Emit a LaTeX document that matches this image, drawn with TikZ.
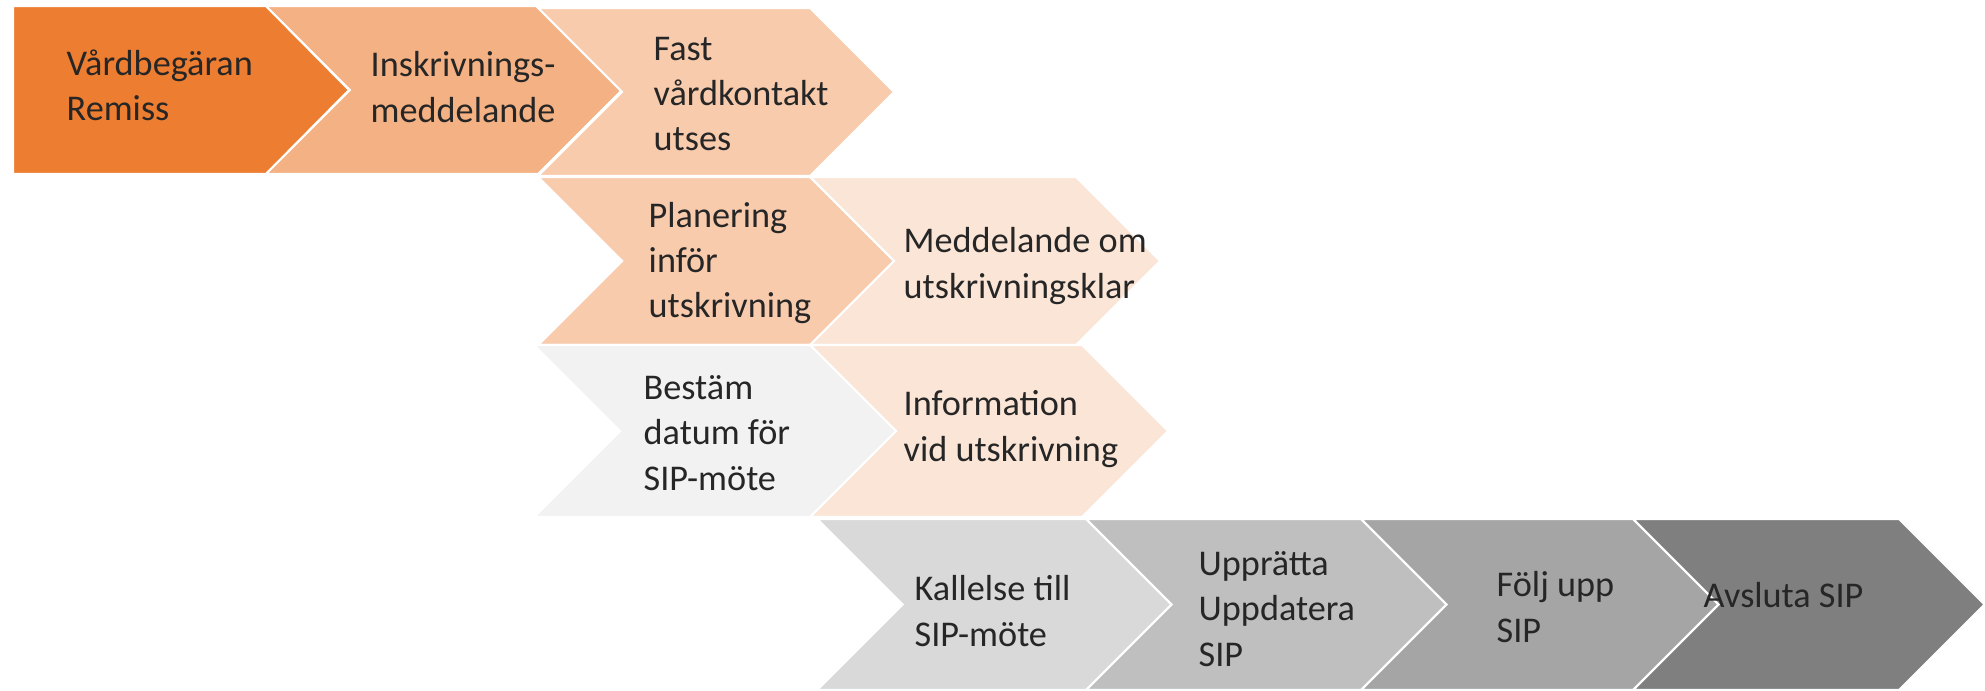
\documentclass[tikz,border=0pt]{standalone}
\usepackage{fontspec}
\setmainfont{Carlito}
\usepackage{xcolor}
\definecolor{Orange}{HTML}{ED7D31}
\definecolor{Peach}{HTML}{F4B183}
\definecolor{Apricot}{HTML}{F8CBAD}
\definecolor{Linen}{HTML}{FBE5D6}
\definecolor{Smoke}{HTML}{F2F2F2}
\definecolor{Silver}{HTML}{D9D9D9}
\definecolor{Ash}{HTML}{BFBFBF}
\definecolor{Stone}{HTML}{A5A5A5}
\definecolor{Slate}{HTML}{7F7F7F}
\colorlet{c0}{Orange}
\colorlet{c1}{Peach}
\colorlet{c2}{Apricot}
\colorlet{c3}{Linen}
\colorlet{c4}{Smoke}
\colorlet{g1}{Silver}
\colorlet{g2}{Ash}
\colorlet{g3}{Stone}
\colorlet{g4}{Slate}
\usepackage{tikz}
\tikzset{
	font = \fontsize{10.3}{12.9}\selectfont,
	chevron/.style={
		draw=white,
		line width=.6pt
	},
	lbl/.style={
		anchor=west,
		align=left,
		inner sep=0pt,
		text=black!85
	}
}
% left x, shoulder x, top y, bottom y, fill
\newcommand{\chev}[5]{%
	\filldraw[chevron, fill=#5] (#1,#3) -- (#2,#3) -- ({#2+(#4-#3)/2},{(#3+#4)/2})
		-- (#2,#4) -- (#1,#4) -- ({#1+(#4-#3)/2},{(#3+#4)/2}) -- cycle;}

\begin{document}
\begin{tikzpicture}[x=0.01cm, y=-0.01cm]
\useasboundingbox (0,0) rectangle (1985,691);
% ---
% row 1
% ---
\filldraw[chevron, fill=c0] (13,6) -- (266,6) -- (349,90) -- (266,174) -- (13,174) -- cycle;
\chev{266}{538}{6}{174}{c1}
\chev{538}{810}{8}{176}{c2}
\node[lbl] at (66,85) (remiss) {Vårdbegäran\\Remiss};
\node[lbl] at (370,87) (inskr) {Inskrivnings-\\meddelande};
\node[lbl] at (653,94) (fast) {Fast\\vårdkontakt\\utses};

% ---
% rows 2 and 3
% ---
\chev{538}{810}{177}{345}{c2}
\chev{810}{1076}{177}{345}{c3}
\chev{534}{810}{345}{517}{c4}
\chev{810}{1082}{345}{517}{c3}
\node[lbl] at (648,263) (plan) {Planering\\inför\\utskrivning};
\node[lbl] at (903,266) (medd) {Meddelande om\\utskrivningsklar};
\node[lbl] at (643,433) (datum) {Bestäm\\datum för\\SIP-möte};
\node[lbl] at (903,429) (info) {Information\\vid utskrivning};

% ---
% row 4
% ---
\chev{817}{1086}{519}{690}{g1}
\chev{1086}{1361}{519}{690}{g2}
\chev{1361}{1633}{519}{690}{g3}
\chev{1633}{1899}{519}{690}{g4}
\node[lbl] at (914,611) (kall) {Kallelse till\\SIP-möte};
\node[lbl] at (1198,609) (uppr) {Upprätta\\Uppdatera\\SIP};
\node[lbl] at (1496,607) (folj) {Följ upp\\SIP};
\node[lbl] at (1703,595) (avsl) {Avsluta SIP};
\end{tikzpicture}
\end{document}
